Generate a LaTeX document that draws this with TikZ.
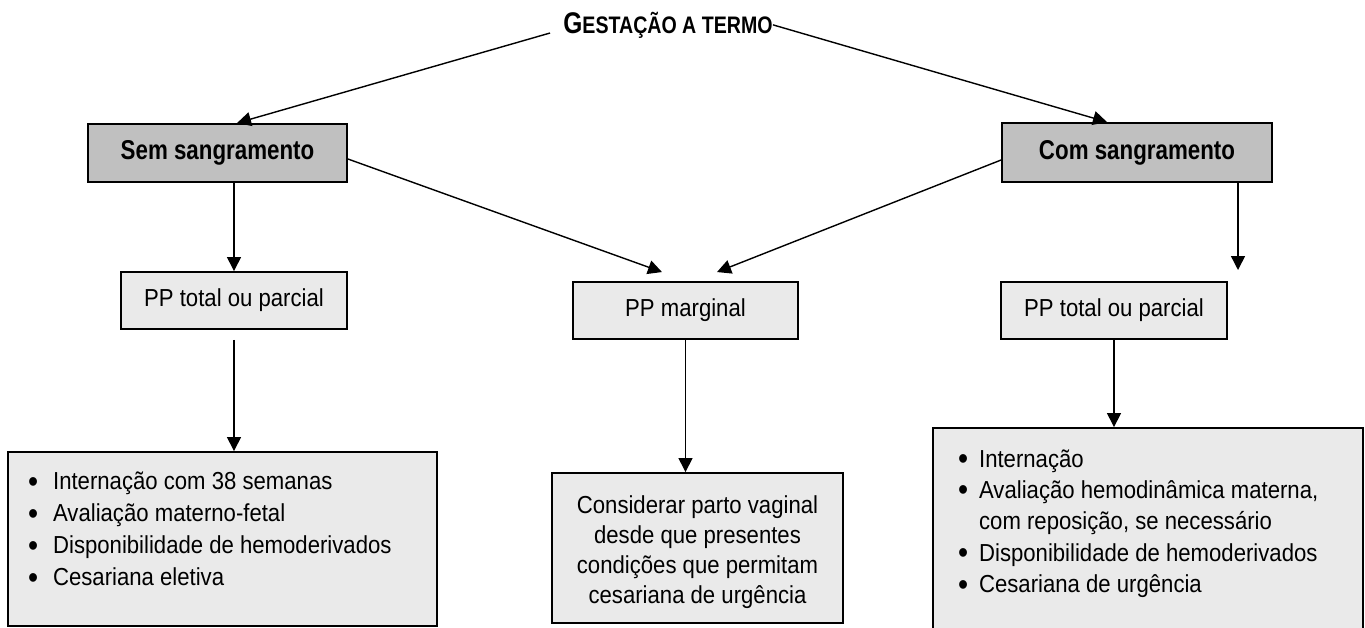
\documentclass[tikz,border=0pt]{standalone}
\usepackage{fontspec}
\setmainfont{Liberation Sans}[FakeStretch=0.9]
\newfontfamily\narrowsans{Liberation Sans}[FakeStretch=0.82]
\usetikzlibrary{arrows.meta,calc}
\definecolor{boxdark}{HTML}{C0C0C0}
\definecolor{boxlight}{HTML}{EAEAEA}
\tikzstyle{headbox}=[rectangle, draw=black, line width=1.1pt, fill=boxdark, inner sep=0pt, anchor=center, font=\narrowsans\bfseries\fontsize{15.5}{18}\selectfont]
\tikzstyle{typebox}=[rectangle, draw=black, line width=1.1pt, fill=boxlight, inner sep=0pt, anchor=center, minimum height=1.14cm, font=\fontsize{14}{16}\selectfont]
\tikzstyle{arr}=[-{Triangle[length=0.28cm,width=0.28cm]}, line width=0.8pt]
\newcommand{\boxtext}[3]{\begin{minipage}[c][#2][t]{#1}#3\end{minipage}}
\newcommand{\bul}{\raisebox{-0.1em}{\scalebox{1.3}{\textbullet}}}

\begin{document}
\begin{tikzpicture}[x=0.02cm, y=-0.02cm]
	\useasboundingbox (0,0) rectangle (1365,627);

	\node[inner sep=0pt, anchor=base, font=\narrowsans\bfseries] (title) at (668,33)
		{{\fontsize{17}{19}\selectfont G}\fontsize{13.6}{16}\selectfont ESTAÇÃO A TERMO};

	\node[headbox, minimum width=5.18cm, minimum height=1.16cm] (sem) at (217.5,153) {Sem sangramento};
	\node[headbox, minimum width=5.4cm, minimum height=1.18cm] (com) at (1137,152.5) {Com sangramento};

	\node[typebox, minimum width=4.52cm] (ppsem) at (234,300.5) {PP total ou parcial};
	\node[typebox, minimum width=4.5cm] (ppmarg) at (685.5,310.5) {PP marginal};
	\node[typebox, minimum width=4.52cm] (ppcom) at (1114,310.5) {PP total ou parcial};

	\node[typebox, minimum width=8.58cm, minimum height=3.48cm] (condsem) at (222.5,539)
		{\boxtext{7.78cm}{2.86cm}{\fontsize{14}{18.2}\selectfont\noindent
		\begin{tabular}[t]{@{}l@{\hspace{0.3cm}}l@{}}
			\bul & Internação com 38 semanas\\
			\bul & Avaliação materno-fetal\\
			\bul & Disponibilidade de hemoderivados\\
			\bul & Cesariana eletiva
		\end{tabular}}};
	\node[typebox, minimum width=5.82cm, minimum height=3cm] (condmarg) at (697.5,548)
		{\boxtext{5.4cm}{2.2cm}{\centering\fontsize{14}{17}\selectfont
		\begin{tabular}[t]{@{}c@{}}
			Considerar parto vaginal\\
			desde que presentes\\
			condições que permitam\\
			cesariana de urgência
		\end{tabular}\par}};
	\node[typebox, minimum width=8.6cm, minimum height=4.02cm] (condcom) at (1148,528.5)
		{\boxtext{7.6cm}{3.34cm}{\fontsize{14}{17.9}\selectfont\noindent
		\begin{tabular}[t]{@{}l@{\hspace{0.22cm}}l@{}}
			\bul & Internação\\
			\bul & Avaliação hemodinâmica materna,\\
			 & com reposição, se necessário\\
			\bul & Disponibilidade de hemoderivados\\
			\bul & Cesariana de urgência
		\end{tabular}}};

	\coordinate (comdown) at (1238,270);

	\draw[arr] ([xshift=-0.26cm]title.base west) -- ($(sem.north)+(19.5,0)$);
	\draw[arr] (title.east) -- ($(com.north)+(-30,0)$);
	\draw[arr] ($(sem.east)+(0,6)$) -- ($(ppmarg.north)+(-23.5,-9)$);
	\draw[arr] ($(com.west)+(0,7.5)$) -- ($(ppmarg.north)+(31.5,-9)$);
	\draw[arr] (sem.south -| ppsem.north) -- (ppsem.north);
	\draw[arr] (com.south -| comdown) -- (comdown);
	\draw[arr] ($(ppsem.south)+(0,10)$) -- (condsem.north -| ppsem.south);
	\draw[arr] (ppmarg.south) -- (ppmarg.south |- condmarg.north);
	\draw[arr] (ppcom.south) -- (ppcom.south |- condcom.north);
\end{tikzpicture}
\end{document}
